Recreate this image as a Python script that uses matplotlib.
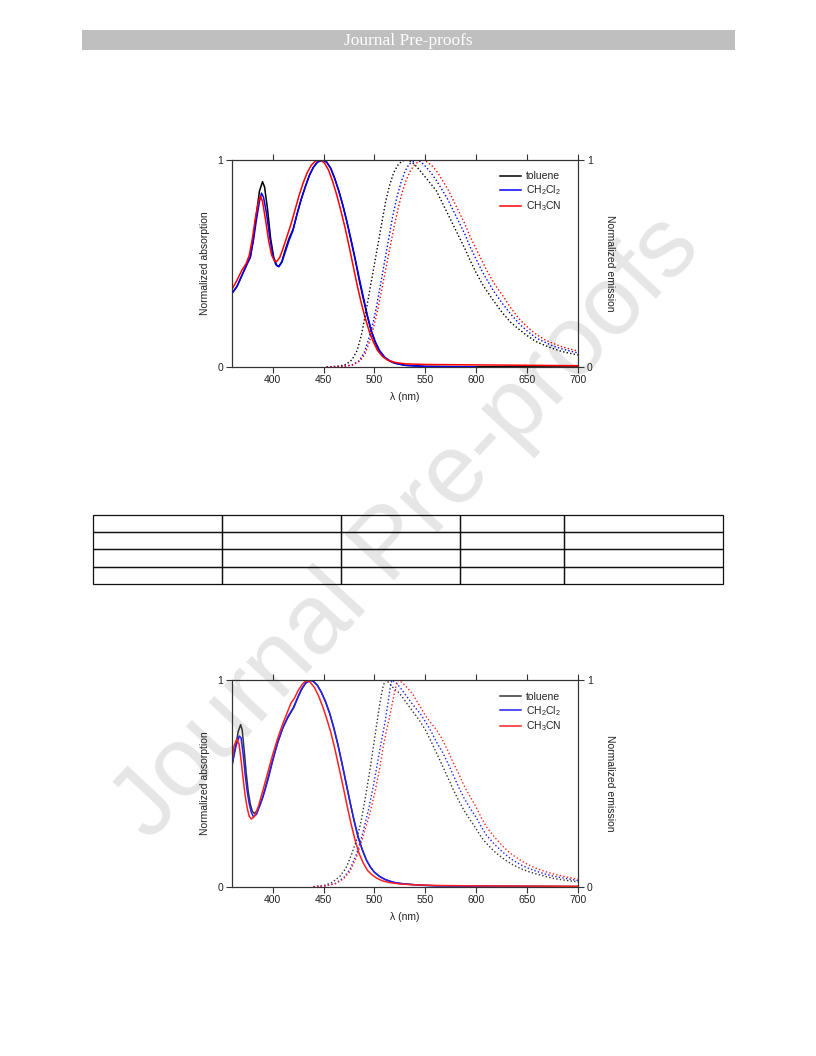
import numpy as np
import matplotlib
matplotlib.use("Agg")
import matplotlib.pyplot as plt
from matplotlib.patches import Rectangle

plt.rcParams['font.family'] = ['Liberation Sans', 'DejaVu Sans']
plt.rcParams['mathtext.fontset'] = 'custom'
plt.rcParams['mathtext.rm'] = 'Liberation Sans'

# ---- data: (wavelength nm, normalized value) ----
solvents = ['toluene', r'$\mathregular{CH_2Cl_2}$', r'$\mathregular{CH_3CN}$']
x_ticks = [400, 450, 500, 550, 600, 650, 700]

# top chart, absorption (solid)
abs1_toluene = [(360, 0.355), (365, 0.39), (370, 0.445), (375, 0.50), (378, 0.53), (381, 0.62), (384, 0.74),
                (387, 0.85), (390, 0.895), (392, 0.87), (395, 0.76), (398, 0.62), (401, 0.53), (404, 0.49),
                (406, 0.485), (409, 0.51), (412, 0.56), (416, 0.62), (420, 0.665), (424, 0.74), (428, 0.81),
                (432, 0.87), (436, 0.925), (440, 0.965), (444, 0.99), (449, 1.0), (453, 0.99), (457, 0.96),
                (461, 0.91), (465, 0.85), (469, 0.78), (473, 0.70), (477, 0.61), (481, 0.52), (485, 0.42),
                (489, 0.33), (493, 0.245), (497, 0.17), (501, 0.115), (505, 0.075), (510, 0.045), (515, 0.028),
                (520, 0.018), (530, 0.008), (550, 0.003), (600, 0.001), (700, 0.0)]
abs1_ch2cl2 = [(360, 0.355), (365, 0.39), (370, 0.445), (375, 0.50), (378, 0.53), (381, 0.61), (384, 0.71),
               (387, 0.80), (389, 0.84), (391, 0.82), (394, 0.74), (397, 0.63), (400, 0.54), (403, 0.495),
               (406, 0.485), (409, 0.505), (412, 0.55), (416, 0.61), (420, 0.66), (424, 0.74), (428, 0.81),
               (432, 0.87), (436, 0.925), (440, 0.965), (444, 0.99), (449, 1.0), (453, 0.99), (457, 0.96),
               (461, 0.91), (465, 0.85), (469, 0.78), (473, 0.70), (477, 0.615), (481, 0.525), (485, 0.43),
               (489, 0.34), (493, 0.25), (497, 0.175), (501, 0.12), (505, 0.08), (510, 0.048), (515, 0.03),
               (520, 0.019), (530, 0.008), (550, 0.002), (600, 0.0)]
abs1_ch3cn = [(360, 0.375), (365, 0.42), (370, 0.47), (374, 0.50), (377, 0.54), (380, 0.62), (383, 0.72),
              (386, 0.80), (388, 0.826), (390, 0.80), (393, 0.71), (396, 0.61), (399, 0.54), (402, 0.51),
              (404, 0.51), (407, 0.53), (410, 0.57), (414, 0.63), (418, 0.69), (422, 0.76), (426, 0.83),
              (430, 0.89), (434, 0.94), (438, 0.975), (442, 0.995), (447, 1.0), (451, 0.985), (455, 0.95),
              (459, 0.895), (463, 0.83), (467, 0.755), (471, 0.675), (475, 0.585), (479, 0.49), (483, 0.395),
              (487, 0.31), (491, 0.235), (495, 0.17), (499, 0.12), (503, 0.08), (508, 0.05), (513, 0.033),
              (520, 0.022), (530, 0.015), (550, 0.012), (600, 0.01), (650, 0.008), (700, 0.006)]

# top chart, emission (dotted)
em1_toluene = [(453, 0.0), (465, 0.004), (472, 0.012), (478, 0.035), (483, 0.08), (487, 0.15), (491, 0.25),
               (495, 0.36), (499, 0.47), (503, 0.58), (507, 0.69), (511, 0.80), (515, 0.88), (519, 0.94),
               (523, 0.975), (527, 0.995), (532, 1.0), (537, 0.99), (542, 0.965), (547, 0.935), (552, 0.905),
               (557, 0.875), (561, 0.85), (566, 0.80), (571, 0.75), (577, 0.69), (583, 0.63), (589, 0.57),
               (594, 0.515), (600, 0.455), (606, 0.40), (610, 0.37), (617, 0.32), (626, 0.26), (634, 0.215),
               (643, 0.178), (651, 0.148), (659, 0.122), (668, 0.103), (676, 0.088), (684, 0.075),
               (692, 0.066), (700, 0.058)]
em1_ch2cl2 = [(453, 0.0), (470, 0.003), (478, 0.01), (485, 0.03), (490, 0.07), (494, 0.13), (498, 0.20),
              (502, 0.29), (506, 0.40), (510, 0.51), (514, 0.62), (518, 0.73), (522, 0.82), (526, 0.89),
              (530, 0.945), (534, 0.98), (541, 1.0), (546, 0.99), (551, 0.965), (556, 0.935), (561, 0.90),
              (566, 0.86), (572, 0.81), (577, 0.76), (583, 0.70), (589, 0.64), (594, 0.58), (600, 0.52),
              (605, 0.47), (610, 0.425), (618, 0.36), (626, 0.305), (634, 0.255), (643, 0.205), (651, 0.17),
              (659, 0.14), (668, 0.118), (676, 0.10), (684, 0.088), (692, 0.077), (700, 0.068)]
em1_ch3cn = [(453, 0.0), (470, 0.003), (479, 0.01), (486, 0.03), (491, 0.065), (495, 0.12), (499, 0.19),
             (503, 0.27), (507, 0.37), (511, 0.47), (515, 0.57), (519, 0.67), (523, 0.76), (527, 0.84),
             (531, 0.90), (535, 0.945), (539, 0.975), (543, 0.992), (548, 1.0), (552, 0.99), (557, 0.97),
             (562, 0.94), (567, 0.90), (572, 0.86), (577, 0.81), (583, 0.75), (589, 0.69), (594, 0.63),
             (600, 0.57), (605, 0.52), (610, 0.47), (618, 0.40), (626, 0.345), (634, 0.285), (643, 0.228),
             (651, 0.19), (659, 0.157), (668, 0.13), (676, 0.113), (684, 0.098), (692, 0.087), (700, 0.077)]

# bottom chart, absorption (solid)
abs2_toluene = [(360, 0.59), (363, 0.66), (366, 0.75), (368.5, 0.785), (370, 0.76), (372, 0.66), (374, 0.55),
                (376, 0.46), (378, 0.40), (380, 0.365), (382, 0.355), (385, 0.37), (390, 0.43), (395, 0.52),
                (400, 0.615), (405, 0.70), (410, 0.77), (415, 0.82), (418, 0.845), (421, 0.87), (425, 0.92),
                (429, 0.96), (433, 0.99), (437, 1.0), (440, 0.995), (444, 0.975), (448, 0.94), (452, 0.895),
                (456, 0.84), (460, 0.77), (464, 0.69), (468, 0.60), (472, 0.505), (476, 0.41), (480, 0.32),
                (484, 0.24), (488, 0.18), (492, 0.13), (496, 0.095), (500, 0.07), (505, 0.05), (510, 0.036),
                (515, 0.027), (520, 0.02), (528, 0.014), (545, 0.008), (560, 0.005), (600, 0.003),
                (650, 0.002), (700, 0.001)]
abs2_ch2cl2 = [(360, 0.583), (363, 0.67), (367.2, 0.73), (369, 0.72), (371, 0.64), (373, 0.54), (375, 0.46),
               (377, 0.40), (379, 0.36), (381, 0.34), (384, 0.35), (388, 0.40), (392, 0.46), (396, 0.53),
               (400, 0.61), (405, 0.70), (410, 0.77), (415, 0.825), (420, 0.865), (424, 0.91), (428, 0.955),
               (432, 0.985), (437, 1.0), (440, 0.995), (444, 0.975), (448, 0.94), (452, 0.895), (456, 0.84),
               (460, 0.77), (464, 0.69), (468, 0.60), (472, 0.505), (476, 0.41), (480, 0.32), (484, 0.24),
               (488, 0.18), (492, 0.13), (496, 0.095), (500, 0.07), (505, 0.05), (510, 0.036), (515, 0.027),
               (520, 0.02), (528, 0.014), (545, 0.007), (560, 0.004), (600, 0.002), (700, 0.0)]
abs2_ch3cn = [(360, 0.61), (362, 0.68), (364.6, 0.715), (367, 0.69), (369, 0.61), (371, 0.52), (373, 0.44),
              (375, 0.38), (377, 0.34), (379, 0.328), (382, 0.34), (386, 0.39), (390, 0.46), (395, 0.55),
              (400, 0.64), (405, 0.72), (410, 0.79), (414, 0.84), (418, 0.89), (421, 0.91), (425, 0.95),
              (429, 0.98), (433, 1.0), (437, 0.99), (441, 0.965), (445, 0.925), (449, 0.875), (453, 0.815),
              (457, 0.75), (461, 0.67), (465, 0.58), (469, 0.49), (473, 0.395), (477, 0.305), (481, 0.225),
              (485, 0.16), (489, 0.115), (493, 0.08), (497, 0.06), (502, 0.042), (508, 0.028), (515, 0.02),
              (525, 0.013), (540, 0.009), (560, 0.006), (600, 0.004), (700, 0.002)]

# bottom chart, emission (dotted)
em2_toluene = [(440, 0.0), (450, 0.005), (458, 0.02), (466, 0.05), (472, 0.09), (477, 0.15), (482.5, 0.227),
               (487, 0.32), (491, 0.43), (495.6, 0.567), (499, 0.68), (502, 0.78), (505.4, 0.89), (508, 0.96),
               (510.4, 1.0), (514, 0.99), (519, 0.96), (524, 0.94), (528, 0.915), (533, 0.88), (539, 0.84),
               (545, 0.80), (550, 0.76), (556, 0.70), (561, 0.648), (566, 0.595), (572, 0.53), (577.5, 0.47),
               (583, 0.415), (588, 0.37), (594, 0.324), (600, 0.28), (605, 0.24), (610, 0.21), (618, 0.17),
               (626, 0.138), (634, 0.112), (643, 0.089), (651, 0.074), (659, 0.062), (668, 0.05),
               (676, 0.04), (688, 0.031), (700, 0.024)]
em2_ch2cl2 = [(440, 0.0), (452, 0.004), (462, 0.017), (470, 0.045), (476, 0.085), (482.5, 0.16), (488, 0.25),
              (494, 0.37), (499, 0.49), (503, 0.60), (507, 0.71), (510.5, 0.80), (513, 0.88), (515, 0.95),
              (517, 1.0), (521, 0.99), (526, 0.96), (532, 0.92), (538, 0.88), (544.7, 0.84), (550, 0.80),
              (556, 0.75), (561, 0.70), (566, 0.66), (572, 0.60), (577.5, 0.54), (583, 0.48), (588, 0.43),
              (594, 0.38), (600, 0.335), (605, 0.29), (610, 0.25), (618, 0.205), (626.6, 0.165), (634, 0.135),
              (643, 0.108), (651, 0.09), (659, 0.075), (668, 0.061), (676, 0.051), (688, 0.04), (700, 0.03)]
em2_ch3cn = [(440, 0.0), (452, 0.004), (462, 0.015), (470, 0.04), (476, 0.075), (482.5, 0.146), (488, 0.23),
             (495.6, 0.356), (501, 0.47), (505, 0.57), (508.7, 0.68), (512, 0.76), (515.2, 0.83), (518, 0.90),
             (520.5, 0.96), (523.4, 1.0), (527, 0.99), (532, 0.965), (538, 0.93), (544.7, 0.874), (550, 0.83),
             (556, 0.79), (561, 0.76), (566, 0.72), (572, 0.66), (577.5, 0.60), (583, 0.545), (588, 0.49),
             (594, 0.437), (600, 0.385), (605, 0.335), (610, 0.29), (618, 0.24), (626.6, 0.194), (634, 0.16),
             (643, 0.13), (651, 0.107), (659, 0.089), (668, 0.073), (676, 0.062), (688, 0.048), (700, 0.036)]

colors_top = ['black', '#0000ff', '#ff0000']
colors_bot = ['#333333', '#2020ff', '#ff2020']
tick_font = 7.5
ink = '#222222'

fig = plt.figure(figsize=(8.16, 10.56), dpi=100)

# watermark behind everything
fig.text(0.50, 0.50, 'Journal Pre-proofs', rotation=47, fontsize=71, color='#e6e6e6',
         ha='center', va='center', zorder=-5, family='Liberation Sans')

# header bar
fig.patches.append(Rectangle((0.1005, 0.9527), 0.800, 0.0189, transform=fig.transFigure,
                             facecolor='#bfbfbf', edgecolor='none', zorder=1))
fig.text(0.5, 0.9615, 'Journal Pre-proofs', ha='center', va='center', color='white',
         fontsize=12.5, family='Liberation Serif', zorder=2)


def spectra_panel(rect, absorption, emission, colors):
    ax = fig.add_axes(rect)
    ax.set_facecolor('none')
    ax2 = ax.twinx()
    ax2.set_facecolor('none')
    for data, c, lab in zip(absorption, colors, solvents):
        x, y = np.array(data).T
        ax.plot(x, y, color=c, lw=1.1, label=lab)
    for data, c in zip(emission, colors):
        x, y = np.array(data).T
        ax2.plot(x, y, color=c, lw=1.0, linestyle=(0, (1, 1.6)))
    for a in (ax, ax2):
        a.set_xlim(360, 700)
        a.set_ylim(0, 1)
        a.set_yticks([0, 1])
        a.set_yticklabels(['0', '1'])
        for s in a.spines.values():
            s.set_color('#333333')
            s.set_linewidth(0.8)
    ax.set_xticks(x_ticks)
    ax.tick_params(axis='x', which='both', direction='out', top=True, bottom=True, length=4,
                   width=0.8, color='#333333', labelsize=tick_font, labelcolor=ink, pad=2)
    ax.tick_params(axis='y', direction='out', length=4.5, width=0.8, color='#333333',
                   labelsize=tick_font, labelcolor=ink, pad=2)
    ax2.tick_params(axis='y', direction='out', length=4.5, width=0.8, color='#333333',
                    labelsize=tick_font, labelcolor=ink, pad=2)
    ax.text(-0.078, 0.5, 'Normalized absorption', rotation=90, ha='center', va='center',
            fontsize=tick_font, color=ink, transform=ax.transAxes)
    ax.text(1.092, 0.5, 'Normalized emission', rotation=270, ha='center', va='center',
            fontsize=tick_font, color=ink, transform=ax.transAxes)
    ax.text(0.5, -0.145, 'λ (nm)', ha='center', va='center', fontsize=tick_font, color=ink,
            transform=ax.transAxes)
    leg = ax.legend(loc='upper left', bbox_to_anchor=(0.775, 0.945), frameon=False, fontsize=tick_font,
                    handlelength=2.0, handletextpad=0.5, labelspacing=0.2, borderpad=0, borderaxespad=0)
    for t in leg.get_texts():
        t.set_color(ink)
    return ax


spectra_panel([0.2843, 0.6525, 0.4240, 0.1960],
              [abs1_toluene, abs1_ch2cl2, abs1_ch3cn], [em1_toluene, em1_ch2cl2, em1_ch3cn], colors_top)
spectra_panel([0.2843, 0.1603, 0.4240, 0.1955],
              [abs2_toluene, abs2_ch2cl2, abs2_ch3cn], [em2_toluene, em2_ch2cl2, em2_ch3cn], colors_bot)

# empty table between the charts
col_widths = [129, 119, 119, 104, 159]
tax = fig.add_axes([0.114, 0.447, 0.772, 0.0653])
tax.axis('off')
tax.set_facecolor('none')
tbl = tax.table(cellText=[[''] * 5 for _ in range(4)],
                colWidths=[w / sum(col_widths) for w in col_widths], bbox=[0, 0, 1, 1])
for cell in tbl.get_celld().values():
    cell.set_linewidth(0.9)
    cell.set_edgecolor('#111111')
    cell.set_facecolor('none')

fig.savefig('out.png', dpi=100)
